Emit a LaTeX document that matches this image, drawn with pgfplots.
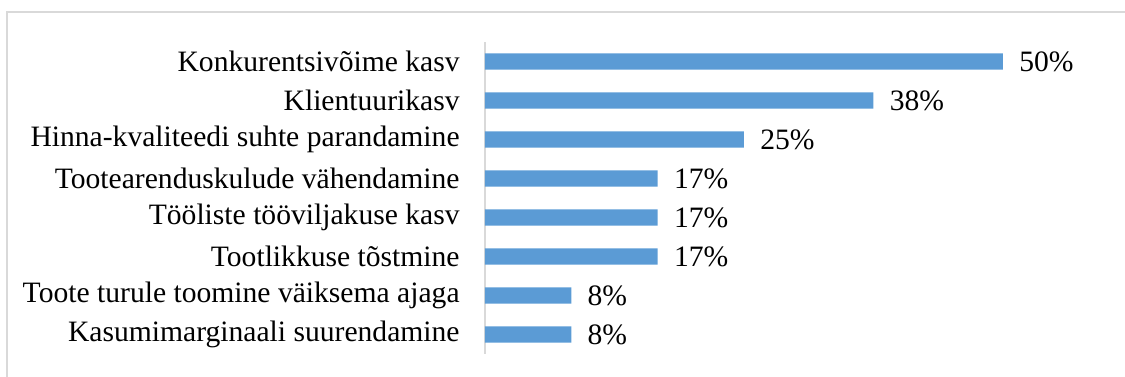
\documentclass[border=0pt]{standalone}
\usepackage{pgfplots}
\pgfplotsset{compat=1.18}
\usepackage{fontspec}
\setmainfont{Liberation Serif}
\definecolor{barblue}{HTML}{5B9BD5}
\definecolor{lgray}{HTML}{D9D9D9}
\begin{document}
\fontsize{14.8}{17}\selectfont
\begin{tikzpicture}
\useasboundingbox (-242.5pt,21pt) rectangle (320pt,-167pt);
\draw[lgray, line width=0.9pt] (-239pt,15pt) rectangle (325pt,-174pt);
\begin{axis}[
  at={(0pt,0pt)}, anchor=north west,
  scale only axis,
  width=310.8pt, height=156pt,
  xbar, bar width=8.2pt,
  xmin=0, xmax=60,
  ymin=-0.5, ymax=7.5,
  y dir=reverse,
  axis x line=none,
  axis y line*=left,
  y axis line style={lgray, line width=0.9pt, -},
  ytick={0,1,2,3,4,5,6,7},
  yticklabels={Konkurentsivõime kasv, Klientuurikasv, Hinna-kvaliteedi suhte parandamine, Tootearenduskulude vähendamine, Tööliste tööviljakuse kasv, Tootlikkuse tõstmine, Toote turule toomine väiksema ajaga, Kasumimarginaali suurendamine},
  major tick length=0pt,
  yticklabel style={anchor=east, inner sep=0pt, xshift=-12.5pt, font=\fontsize{14.8}{17}\selectfont},
  point meta=explicit symbolic,
  nodes near coords,
  nodes near coords style={anchor=west, inner sep=0pt, xshift=8pt, font=\fontsize{14.8}{17}\selectfont, text=black},
]
\addplot[fill=barblue, draw=none] coordinates {
  (50,0) [50\%]
  (37.5,1) [38\%]
  (25,2) [25\%]
  (16.67,3) [17\%]
  (16.67,4) [17\%]
  (16.67,5) [17\%]
  (8.33,6) [8\%]
  (8.33,7) [8\%]
};
\end{axis}
\end{tikzpicture}
\end{document}
